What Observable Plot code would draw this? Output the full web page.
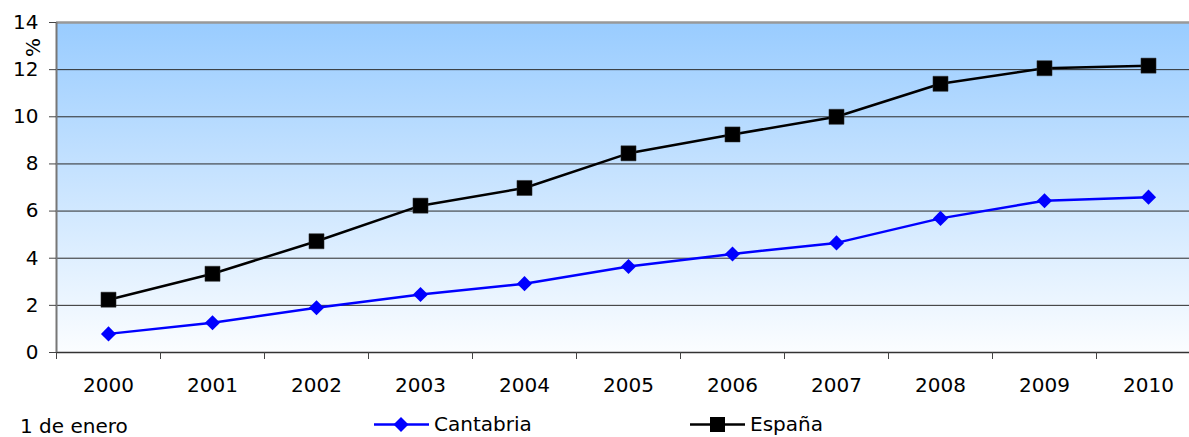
<!DOCTYPE html>
<html><head><meta charset="utf-8">
<script src="https://cdn.jsdelivr.net/npm/d3@7"></script>
<script src="https://cdn.jsdelivr.net/npm/@observablehq/plot@0.6"></script>
<style>
html,body{margin:0;padding:0;background:#fff;overflow:hidden}
#wrap{position:relative;width:1189px;height:437px;overflow:hidden;font-family:"DejaVu Sans",Verdana,sans-serif;font-size:20px;color:#000}
#wrap svg.plot{display:block}
.leg{position:absolute;display:flex;align-items:center;white-space:nowrap;line-height:1}
.cap{position:absolute;white-space:nowrap;line-height:1}
</style></head><body><div id="wrap"></div>
<script>
const years = [2000, 2001, 2002, 2003, 2004, 2005, 2006, 2007, 2008, 2009, 2010];
const cantabria = [0.79, 1.26, 1.90, 2.46, 2.92, 3.65, 4.18, 4.65, 5.69, 6.44, 6.59];
const espana = [2.24, 3.34, 4.72, 6.23, 6.98, 8.45, 9.25, 10.0, 11.40, 12.06, 12.17];
const yTicks = [0, 2, 4, 6, 8, 10, 12, 14];
const gridTicks = [2, 4, 6, 8, 10, 12];
const seriesNames = ["Cantabria", "España"];
const caption = "1 de enero";
const yLabel = "%";

const yearEdges = years.map(y => y - 0.5).concat([years[years.length - 1] + 0.5]);
const rowsC = years.map((year, i) => ({year, value: cantabria[i], serie: seriesNames[0]}));
const rowsE = years.map((year, i) => ({year, value: espana[i], serie: seriesNames[1]}));

const defs = () => {
  const d = d3.create("svg:defs");
  const g = d.append("linearGradient").attr("id", "bgGrad").attr("x1", 0).attr("y1", 0).attr("x2", 0).attr("y2", 1);
  g.append("stop").attr("offset", "0%").attr("stop-color", "#99ccff");
  g.append("stop").attr("offset", "100%").attr("stop-color", "#fbfdff");
  return d.node();
};

const chart = Plot.plot({
  width: 1189,
  height: 400,
  marginTop: 22,
  marginBottom: 48,
  marginLeft: 56,
  marginRight: -11,
  style: {fontFamily: '"DejaVu Sans", Verdana, sans-serif', fontSize: "20px", background: "transparent", color: "#000"},
  x: {type: "linear", domain: [yearEdges[0], yearEdges[yearEdges.length - 1]], axis: null},
  y: {domain: [0, 14], axis: null},
  marks: [
    defs,
    Plot.frame({fill: "url(#bgGrad)", stroke: "none"}),
    Plot.ruleY(gridTicks, {stroke: "#2a2a2a", strokeWidth: 1}),
    Plot.ruleY([yTicks[yTicks.length - 1]], {stroke: "#999", strokeWidth: 2.5}),
    Plot.ruleY([0], {stroke: "#333", strokeWidth: 1.5}),
    Plot.ruleX([yearEdges[0]], {stroke: "#777", strokeWidth: 2}),
    Plot.axisY(yTicks, {anchor: "left", tickSize: 7, tickPadding: 11, label: null, stroke: "#444"}),
    Plot.axisX(yearEdges, {anchor: "bottom", tickSize: 7, tickFormat: () => "", label: null, stroke: "#444"}),
    Plot.axisX(years, {anchor: "bottom", tickSize: 0, tickPadding: 25, tickFormat: d => String(d), label: null}),
    Plot.line(rowsC, {x: "year", y: "value", stroke: "#0000ff", strokeWidth: 2.5}),
    Plot.dot(rowsC, {x: "year", y: "value", symbol: "diamond2", r: 6.8, fill: "#0000ff", stroke: "none"}),
    Plot.line(rowsE, {x: "year", y: "value", stroke: "#000", strokeWidth: 2.5}),
    Plot.dot(rowsE, {x: "year", y: "value", symbol: "square", r: 8.5, fill: "#000", stroke: "#333", strokeWidth: 0.5}),
    Plot.text([yLabel], {frameAnchor: "top-left", rotate: -90, textAnchor: "middle", lineAnchor: "middle", dx: -23, dy: 25, fontSize: 20})
  ]
});

const wrap = document.getElementById("wrap");
wrap.appendChild(chart);

function legendItem(name, color, shape, left) {
  const el = document.createElement("div");
  el.className = "leg";
  el.style.left = left + "px";
  el.style.top = "414px";
  const marker = shape === "square"
    ? `<rect x="20" y="1" width="15" height="15" fill="${color}"/>`
    : `<polygon points="27,1 34.5,8.5 27,16 19.5,8.5" fill="${color}"/>`;
  el.innerHTML = `<svg width="56" height="17" style="margin-right:4px"><line x1="0" y1="8.5" x2="55" y2="8.5" stroke="${color}" stroke-width="2.5"/>${marker}</svg><span>${name}</span>`;
  wrap.appendChild(el);
}
legendItem(seriesNames[0], "#0000ff", "diamond", 374);
legendItem(seriesNames[1], "#000000", "square", 690);

const cap = document.createElement("div");
cap.className = "cap";
cap.style.left = "20px";
cap.style.top = "416px";
cap.textContent = caption;
wrap.appendChild(cap);
</script>
</body></html>
